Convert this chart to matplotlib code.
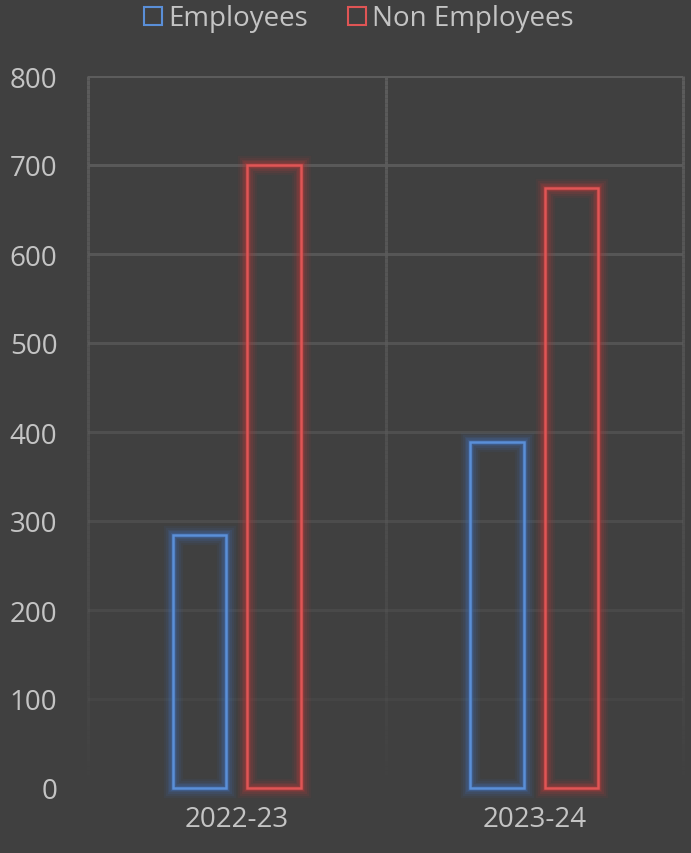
import numpy as np
import matplotlib
matplotlib.use("Agg")
import matplotlib.pyplot as plt
from matplotlib.collections import LineCollection
from matplotlib.lines import Line2D
from matplotlib.patches import Rectangle

categories = ["2022-23", "2023-24"]
employees = [284, 389]
non_employees = [700, 674]
series_names = ["Employees", "Non Employees"]
y_ticks = [0, 100, 200, 300, 400, 500, 600, 700, 800]

BG = "#404040"
GRID = "#5c5c5c"
TEXT = "#c4c4c4"
BLUE = "#5a8fd8"
BLUE_GLOW = "#3f6fb5"
RED = "#e05555"
RED_GLOW = "#b83a3a"

plt.rcParams["font.family"] = ["Open Sans", "DejaVu Sans"]

fig = plt.figure(figsize=(6.91, 8.54), dpi=100, facecolor=BG)
ax = fig.add_axes([88 / 691, 1 - 789 / 854, (683 - 88) / 691, (789 - 77) / 854])
ax.set_facecolor(BG)
ax.set_xlim(0, 2)
ax.set_ylim(0, 800)
for s in ax.spines.values():
    s.set_visible(False)


def fade(v):
    return np.clip((v / 800.0) ** 0.8, 0, 1)


# horizontal gridlines fading towards the bottom
for v in y_ticks[1:]:
    ax.axhline(v, color=GRID, lw=2.2, alpha=float(fade(v)), zorder=0)

# vertical gridlines with the same fade
ys = np.linspace(0, 800, 161)
for xv in [0, 1, 2]:
    segs = [[(xv, ys[i]), (xv, ys[i + 1])] for i in range(len(ys) - 1)]
    cols = [(0x5c / 255, 0x5c / 255, 0x5c / 255, float(fade((ys[i] + ys[i + 1]) / 2)))
            for i in range(len(ys) - 1)]
    lc = LineCollection(segs, colors=cols, linewidths=2.2, zorder=0,
                        transform=ax.transData, clip_on=False)
    ax.add_collection(lc)

x = np.arange(len(categories)) + 0.5
width = 0.18
offset = 0.125


def glow_bar(xc, h, color, glow):
    for lw, a in [(14, 0.08), (11, 0.11), (8, 0.15), (5.5, 0.22), (3.5, 0.32)]:
        ax.add_patch(Rectangle((xc - width / 2, 0), width, h, fill=False,
                               edgecolor=glow, lw=lw, alpha=a, zorder=2,
                               joinstyle="miter", clip_on=False))
    ax.add_patch(Rectangle((xc - width / 2, 0), width, h, fill=False,
                           edgecolor=color, lw=1.8, zorder=3,
                           joinstyle="miter", clip_on=False))


for xc, h in zip(x - offset, employees):
    glow_bar(xc, h, BLUE, BLUE_GLOW)
for xc, h in zip(x + offset, non_employees):
    glow_bar(xc, h, RED, RED_GLOW)

ax.set_yticks(y_ticks)
ax.set_yticklabels([str(t) for t in y_ticks])
ax.set_xticks(x)
ax.set_xticklabels(categories)
ax.tick_params(axis="both", length=0, colors=TEXT, labelsize=20)
ax.tick_params(axis="y", pad=22)
ax.tick_params(axis="x", pad=12)

handles = [
    Line2D([], [], marker="s", linestyle="none", markersize=13,
           markerfacecolor="none", markeredgecolor=BLUE, markeredgewidth=1.5),
    Line2D([], [], marker="s", linestyle="none", markersize=13,
           markerfacecolor="none", markeredgecolor=RED, markeredgewidth=1.5),
]
fig.legend(handles, series_names, loc="upper center", bbox_to_anchor=(0.517, 1.023),
           ncol=2, frameon=False, fontsize=20, labelcolor=TEXT,
           handletextpad=0.1, columnspacing=1.3, handlelength=0.9)

fig.savefig("out.png", dpi=100, facecolor=BG)
